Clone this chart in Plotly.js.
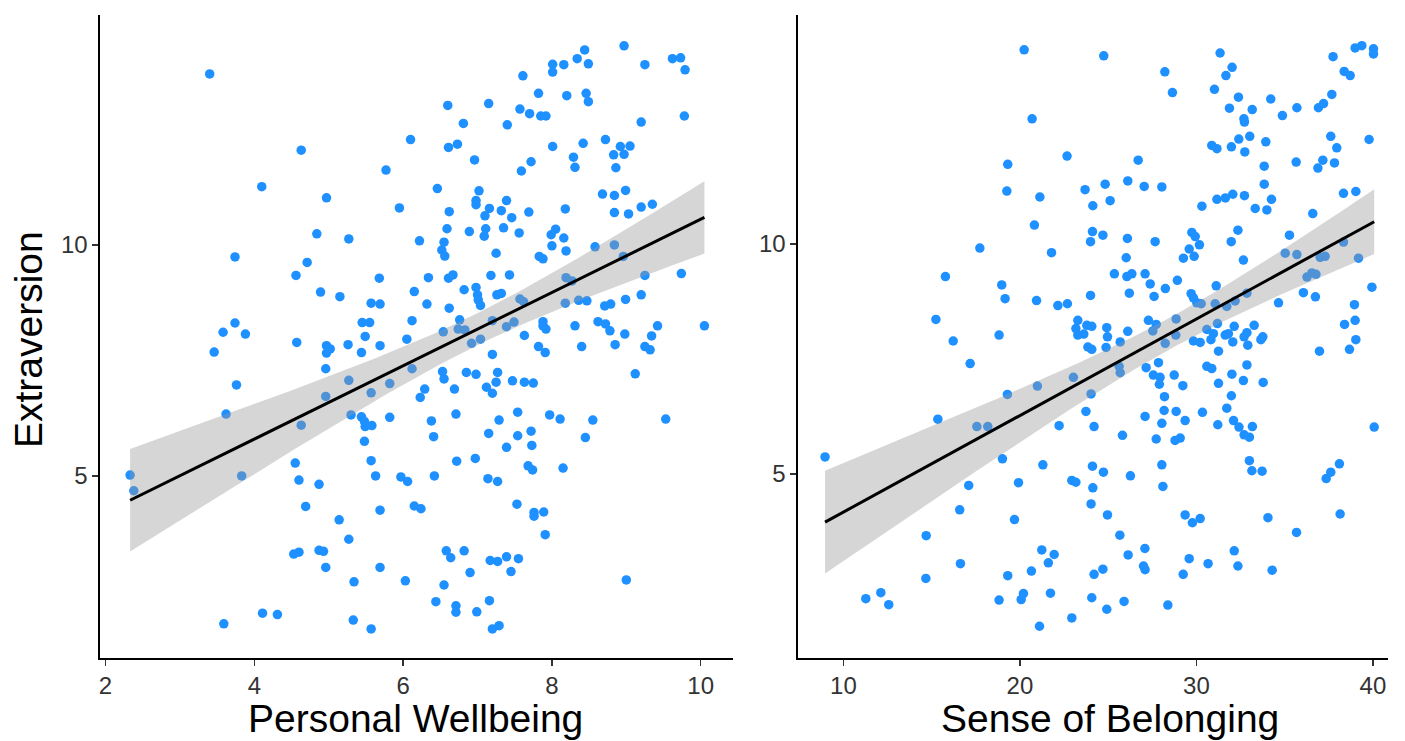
<!DOCTYPE html>
<html>
<head>
<meta charset="utf-8">
<script src="https://cdn.plot.ly/plotly-3.0.1.min.js"></script>
<style>html,body{margin:0;padding:0;background:#fff;}#chart{width:1405px;height:741px;}</style>
</head>
<body>
<div id="chart"></div>
<script>
// Left panel: Personal Wellbeing vs Extraversion
const pwX = [3.40,6.10,4.63,5.77,4.10,4.97,5.95,4.84,
8.97,8.44,8.34,8.49,8.16,8.01,8.01,9.25,9.62,9.73,9.79,7.61,7.82,8.20,8.46,8.49,6.60,7.15,7.57,7.70,7.85,7.92,9.78,6.81,7.40,9.20,6.61,6.73,8.01,8.42,8.72,8.92,9.05,8.83,8.97,6.96,7.72,8.29,8.31,7.59,8.86,6.46,7.02,6.98,6.98,7.39,7.16,7.10,7.32,7.46,7.69,8.18,8.68,8.84,8.99,8.84,9.03,9.20,9.35,6.62,
5.27,6.22,3.74,4.71,4.56,5.68,4.89,5.15,6.15,5.57,5.69,3.74,3.58,3.88,3.46,4.57,5.45,5.55,6.12,5.49,4.97,5.02,4.97,5.26,5.44,5.69,6.05,4.96,3.76,5.27,5.82,6.12,4.96,5.57,6.23,3.62,4.63,5.30,5.44,5.48,5.58,5.49,5.82,5.48,
6.59,6.89,7.11,7.09,7.35,7.56,8.05,7.99,8.16,6.55,6.52,6.56,7.25,8.00,8.19,7.83,7.88,8.58,8.84,8.96,9.74,9.25,6.34,6.61,6.67,7.18,7.43,8.19,8.27,6.82,6.98,7.00,7.01,7.04,7.32,7.26,7.57,7.62,6.32,6.62,8.18,8.36,8.47,8.71,8.79,8.99,9.20,6.76,6.54,6.74,6.83,6.92,7.04,7.20,7.39,7.49,7.63,7.88,7.88,7.92,8.31,8.62,8.72,8.78,8.98,9.42,9.34,10.05,8.40,8.85,9.25,9.32,7.82,7.91,7.20,6.53,6.55,6.85,6.98,7.27,7.47,7.63,7.75,7.25,7.12,7.20,6.69,6.29,9.12,6.71,6.38,6.41,7.29,7.15,7.54,7.54,7.72,7.97,8.11,8.55,8.45,9.53,
2.33,2.38,3.83,4.55,4.60,4.87,4.69,5.57,5.63,5.97,6.06,5.69,6.15,6.24,5.14,5.27,4.53,4.60,4.87,4.93,4.96,5.69,5.34,6.03,3.59,4.11,4.31,5.33,5.57,
7.39,7.73,6.72,6.97,6.42,7.14,7.27,7.68,7.74,8.15,7.53,7.76,7.76,7.89,7.91,6.58,6.64,6.82,7.17,7.27,7.39,7.55,6.90,7.45,6.55,6.44,6.71,6.71,6.99,7.16,7.20,7.29,9.00];
const pwY = [13.70,12.28,12.05,11.62,11.26,11.02,10.80,10.24,
14.31,14.22,14.03,13.92,13.90,13.91,13.74,13.90,14.03,14.05,13.79,13.66,13.28,13.23,13.28,13.10,13.02,13.06,12.94,12.84,12.79,12.79,12.79,12.63,12.60,12.66,12.11,12.18,12.13,12.20,12.28,12.13,12.14,11.95,11.96,11.84,11.80,11.90,11.68,11.60,11.67,11.22,11.17,10.96,10.87,10.96,10.79,10.63,10.74,10.59,10.71,10.78,11.10,11.07,11.18,10.70,10.67,10.82,10.88,10.72,
10.13,10.09,9.74,9.62,9.34,9.28,8.98,8.88,8.99,8.74,8.72,8.31,8.11,8.07,7.68,7.89,8.32,8.32,8.36,8.02,7.82,7.75,7.66,7.84,7.67,7.82,7.96,7.32,6.97,7.07,7.00,7.32,6.72,6.80,6.70,6.34,6.10,6.32,6.28,6.18,6.09,6.07,6.27,5.75,
10.35,10.29,10.35,10.19,10.37,10.26,10.34,10.22,10.15,10.06,9.89,9.76,9.82,9.98,9.87,9.75,9.70,9.96,10.00,9.75,9.38,9.34,9.29,9.28,9.35,9.34,9.35,9.29,9.22,9.03,9.08,8.92,8.81,8.69,8.95,8.92,8.83,8.77,8.72,8.63,8.74,8.80,8.79,8.68,8.72,8.82,8.92,8.38,8.12,8.18,8.16,7.87,7.96,8.36,8.23,8.33,8.04,8.34,8.25,8.18,8.25,8.34,8.29,8.14,8.07,8.25,8.03,8.25,7.80,7.84,7.80,7.73,7.80,7.67,7.63,7.26,7.10,7.24,7.20,7.24,7.06,7.03,7.01,7.03,6.92,6.79,6.88,6.88,7.21,6.34,6.19,5.85,6.21,5.92,6.38,5.87,5.97,6.32,6.23,6.21,5.83,6.23,
5.02,4.68,5.00,5.28,4.91,4.82,4.34,5.33,5.00,4.98,4.88,4.26,4.35,4.29,4.05,3.63,3.31,3.35,3.39,3.37,3.02,3.02,2.71,2.73,1.80,2.03,2.00,1.88,1.69,
5.62,5.66,5.32,5.38,5.00,4.94,4.88,5.22,5.13,5.17,4.39,4.21,4.13,4.22,3.73,3.38,3.23,3.38,3.17,3.15,3.25,3.21,2.91,2.93,2.64,2.28,2.19,2.05,2.06,2.30,1.69,1.76,2.75];

// Right panel: Sense of Belonging vs Extraversion
const sbX = [20.24,20.69,22.67,19.31,19.26,21.13,23.69,24.13,20.82,
24.75,28.21,28.64,31.34,32.02,31.67,31.02,32.38,31.87,33.16,32.69,32.72,34.21,34.87,35.69,36.91,37.20,37.67,37.74,38.37,38.71,38.99,39.37,40.03,40.03,39.78,30.87,31.16,31.98,32.40,33.02,32.74,33.93,33.84,35.65,37.61,37.95,37.16,36.88,37.82,26.70,24.83,26.11,27.04,28.04,25.11,30.31,31.16,31.64,32.06,32.72,33.84,34.25,33.33,33.99,36.59,38.33,39.03,
24.11,24.00,17.73,21.79,15.78,18.97,19.16,20.94,22.15,22.69,24.00,15.24,18.82,16.22,17.18,23.28,23.17,23.28,23.62,23.79,24.07,23.85,24.07,23.03,20.99,19.29,24.03,15.35,17.56,18.18,23.74,22.22,24.20,
24.70,26.09,27.66,29.74,29.93,30.17,29.59,29.87,29.26,32.35,31.97,32.66,35.27,35.03,35.69,37.01,37.29,38.33,39.18,26.02,25.35,26.06,26.34,27.09,27.38,28.24,28.92,26.20,27.60,31.12,29.70,29.83,30.02,30.27,31.06,31.72,32.19,32.86,34.65,36.06,36.74,36.26,36.54,36.77,39.94,38.95,38.99,38.39,39.03,38.67,36.97,24.92,24.96,24.88,25.68,26.11,27.28,27.72,27.53,28.23,28.85,28.83,29.83,30.21,30.59,30.96,30.82,31.19,31.63,31.81,32.06,32.14,32.70,32.86,32.91,33.27,33.65,33.76,31.25,25.62,25.68,27.15,27.85,27.56,27.94,27.90,28.74,29.23,30.59,30.87,32.01,32.86,31.25,32.66,33.78,31.98,28.19,28.17,28.85,27.09,28.04,29.36,30.34,31.72,32.10,32.41,31.21,33.17,32.70,33.00,25.81,27.72,28.79,29.08,40.07,
8.96,19.01,21.30,24.11,24.13,24.03,17.10,19.92,22.94,23.17,16.59,19.69,14.69,21.24,21.94,21.61,16.63,14.67,19.31,20.65,24.20,11.27,12.12,12.57,18.82,20.07,20.20,21.73,24.07,21.11,22.94,
24.73,26.26,28.04,28.10,24.96,25.66,26.13,27.08,27.00,27.09,24.70,24.92,25.90,28.38,29.36,29.77,30.21,29.59,29.25,30.66,32.14,32.35,34.29,33.00,33.14,33.72,34.05,35.67,37.35,37.61,38.10,38.14];
const sbY = [14.22,12.72,11.91,11.73,11.15,11.02,11.18,10.83,10.41,
14.09,13.74,13.29,14.15,13.84,13.66,13.36,13.19,12.95,12.92,12.72,12.65,13.15,12.79,12.96,12.96,13.05,13.25,14.07,13.75,13.66,14.26,14.31,14.24,14.13,12.27,12.14,12.07,12.11,12.28,12.34,12.00,12.22,11.69,11.78,12.34,12.09,11.82,11.65,11.76,11.82,11.30,11.37,11.25,11.24,10.94,10.82,10.97,11.00,11.08,11.05,11.30,10.97,10.77,10.74,10.66,11.10,11.14,
10.27,10.05,9.91,9.81,9.29,9.11,8.81,8.77,8.66,8.70,8.88,8.36,8.02,7.89,7.40,8.34,8.16,8.02,8.04,8.23,8.21,7.76,7.71,7.10,6.91,6.73,6.74,6.19,6.03,6.03,6.36,6.05,6.03,
10.19,10.12,10.05,10.25,10.16,9.98,9.89,9.73,9.69,10.30,10.05,9.65,10.19,9.80,9.77,9.71,9.73,10.04,9.69,9.70,9.35,9.29,9.35,9.35,9.13,9.03,9.21,8.93,8.86,9.09,8.92,8.83,8.72,8.70,8.70,8.64,8.76,8.93,8.72,8.94,8.85,9.28,9.37,9.34,9.06,8.68,8.34,8.25,7.92,7.71,7.67,8.18,7.98,7.75,7.87,8.10,8.34,8.25,8.11,7.84,8.37,8.02,7.89,7.86,8.14,8.05,7.92,8.27,8.02,8.05,7.87,8.21,7.98,8.07,7.80,8.23,7.92,7.98,7.67,7.34,7.20,7.31,7.42,7.15,7.10,6.95,7.15,6.92,7.34,7.29,7.17,7.37,6.97,7.03,6.99,6.70,6.68,6.38,6.36,6.25,6.10,6.16,6.34,6.43,6.16,6.02,6.07,6.03,5.85,5.80,5.84,5.76,5.73,5.78,6.02,
5.37,5.33,5.20,5.17,4.70,4.35,4.75,4.81,4.86,4.82,4.22,4.01,3.66,3.35,3.25,3.07,3.05,2.73,2.79,2.89,2.82,2.29,2.42,2.16,2.26,2.27,2.40,2.41,2.31,1.69,1.87,
5.04,4.96,5.20,4.73,4.11,3.67,3.24,3.38,3.00,2.92,2.93,2.06,2.23,2.15,4.11,3.94,4.03,3.16,2.82,3.05,3.33,3.00,2.91,5.29,5.07,5.06,4.05,3.73,4.90,5.04,5.22,4.13];

const pwTicks = [2, 4, 6, 8, 10];
const sbTicks = [10, 20, 30, 40];
const yTicks = [5, 10];
const xTitleLeft = "Personal Wellbeing";
const xTitleRight = "Sense of Belonging";
const yTitle = "Extraversion";

// linear model with 95% confidence band (like geom_smooth(method = "lm"))
function lmBand(xs, ys, steps) {
  const n = xs.length;
  const mx = xs.reduce((a, b) => a + b, 0) / n;
  const my = ys.reduce((a, b) => a + b, 0) / n;
  let sxx = 0, sxy = 0;
  for (let i = 0; i < n; i++) { sxx += (xs[i] - mx) ** 2; sxy += (xs[i] - mx) * (ys[i] - my); }
  const b = sxy / sxx, a = my - b * mx;
  let sse = 0;
  for (let i = 0; i < n; i++) sse += (ys[i] - a - b * xs[i]) ** 2;
  const s2 = sse / (n - 2);
  const t = 1.969;
  const lo = Math.min(...xs), hi = Math.max(...xs);
  const gx = [], fit = [], up = [], dn = [];
  for (let k = 0; k <= steps; k++) {
    const x = lo + (hi - lo) * k / steps;
    const f = a + b * x;
    const se = Math.sqrt(s2 * (1 / n + (x - mx) ** 2 / sxx));
    gx.push(x); fit.push(f); up.push(f + t * se); dn.push(f - t * se);
  }
  return { gx, fit, up, dn };
}

const L = lmBand(pwX, pwY, 80);
const R = lmBand(sbX, sbY, 80);

const ptColor = '#1E90FF';
const bandFill = 'rgba(153,153,153,0.4)';

function panel(xs, ys, band, xa, ya) {
  return [
    { x: xs, y: ys, xaxis: xa, yaxis: ya, type: 'scatter', mode: 'markers',
      marker: { color: ptColor, size: 9.5, line: { width: 0 } }, hoverinfo: 'x+y' },
    { x: band.gx, y: band.dn, xaxis: xa, yaxis: ya, type: 'scatter', mode: 'lines',
      line: { width: 0, color: 'rgba(0,0,0,0)' }, hoverinfo: 'skip' },
    { x: band.gx, y: band.up, xaxis: xa, yaxis: ya, type: 'scatter', mode: 'lines',
      fill: 'tonexty', fillcolor: bandFill, line: { width: 0, color: 'rgba(0,0,0,0)' }, hoverinfo: 'skip' },
    { x: band.gx, y: band.fit, xaxis: xa, yaxis: ya, type: 'scatter', mode: 'lines',
      line: { color: '#000000', width: 3 }, hoverinfo: 'skip' }
  ];
}

const data = [...panel(pwX, pwY, L, 'x', 'y'), ...panel(sbX, sbY, R, 'x2', 'y2')];

const font = 'Liberation Sans, Arial, Helvetica, sans-serif';
const axisCommon = {
  showgrid: false, zeroline: false, showline: true, linecolor: '#000', linewidth: 1.6,
  ticks: 'outside', ticklen: 6, tickwidth: 1.4, tickcolor: '#333',
  tickfont: { family: font, size: 24, color: '#333333' }, fixedrange: true
};

const layout = {
  width: 1405, height: 741,
  margin: { l: 0, r: 0, t: 0, b: 0 },
  paper_bgcolor: '#fff', plot_bgcolor: '#fff',
  showlegend: false,
  xaxis: Object.assign({}, axisCommon, { domain: [0.0712, 0.5217], range: [1.926, 10.434], tickvals: pwTicks, anchor: 'y' }),
  yaxis: Object.assign({}, axisCommon, { domain: [0.112, 0.98], range: [1.06, 14.98], tickvals: yTicks, anchor: 'x' }),
  xaxis2: Object.assign({}, axisCommon, { domain: [0.568, 0.988], range: [7.43, 40.86], tickvals: sbTicks, anchor: 'y2' }),
  yaxis2: Object.assign({}, axisCommon, { domain: [0.112, 0.98], range: [1.0, 14.98], tickvals: yTicks, anchor: 'x2' }),
  annotations: [
    { text: xTitleLeft, xref: 'paper', yref: 'paper', x: 415 / 1405, y: 1 - 718 / 741, xanchor: 'center', yanchor: 'middle',
      showarrow: false, font: { family: font, size: 39, color: '#000' } },
    { text: xTitleRight, xref: 'paper', yref: 'paper', x: 1110 / 1405, y: 1 - 718 / 741, xanchor: 'center', yanchor: 'middle',
      showarrow: false, font: { family: font, size: 39, color: '#000' } },
    { text: yTitle, xref: 'paper', yref: 'paper', x: 28 / 1405, y: 1 - 340 / 741, xanchor: 'center', yanchor: 'middle',
      textangle: -90, showarrow: false, font: { family: font, size: 39, color: '#000' } }
  ]
};

Plotly.newPlot('chart', data, layout, { displayModeBar: false, staticPlot: true });
</script>
</body>
</html>
